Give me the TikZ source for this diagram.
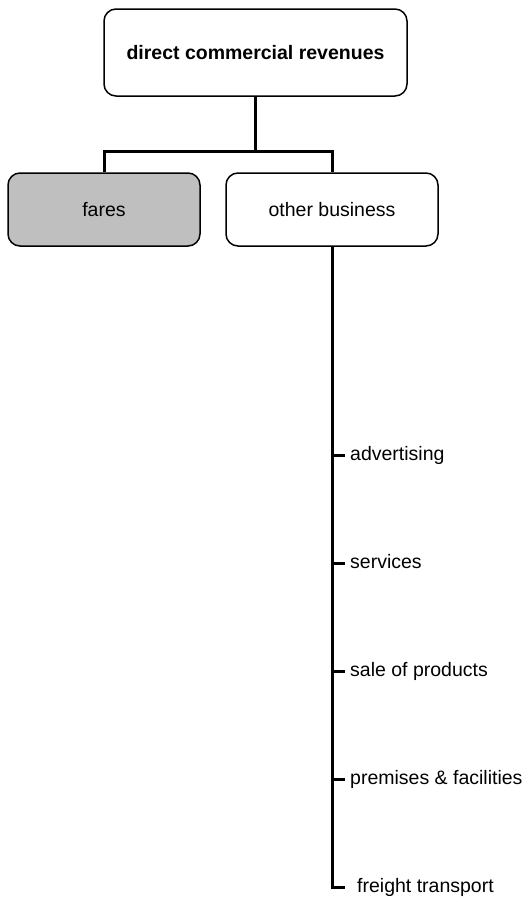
\documentclass[tikz,border=0pt]{standalone}
\usepackage{fontspec}
\setmainfont{Liberation Sans}
\usetikzlibrary{positioning}

\begin{document}
\begin{tikzpicture}[
      x=1pt, y=-1pt,
      box/.style={draw, rounded corners=12pt, line width=1.5pt, align=center, font=\fontsize{19.5}{23}\selectfont},
      link/.style={line width=3pt},
      item/.style={anchor=west, inner ysep=0pt, inner xsep=5pt, text height=14pt, text depth=4pt, font=\fontsize{19.5}{23}\selectfont}
    ]
    \useasboundingbox[fill=white] (0,0) rectangle (528,898);
    \node[box, minimum width=303pt, minimum height=87pt, font=\fontsize{19.5}{23}\selectfont\bfseries] (rev) at (255.5,52.5) {direct commercial revenues};
    \node[box, fill=black!25, minimum width=192pt, minimum height=73pt] (fares) at (104,209.5) {fares};
    \node[box, minimum width=212pt, minimum height=73pt] (other) at (332,209.5) {other business};
    \coordinate (split) at (255.5,151);
    \draw[link] (rev) -- (split);
    \draw[link] (fares.north) |- (split) -| (other.north);
    % items of other business
    \node[item] (adv) at (345,455) {advertising};
    \node[item] (serv) at (345,563) {services};
    \node[item] (sale) at (345,671) {sale of products};
    \node[item] (prem) at (345,779) {premises \& facilities};
    \node[item, inner xsep=12pt] (freight) at (345,887) {freight transport};
    \draw[link] (other.south) |- (freight.west);
    \foreach \n in {adv, serv, sale, prem}
      \draw[link] (other.south |- \n.west) -- (\n.west);
  \end{tikzpicture}
\end{document}
